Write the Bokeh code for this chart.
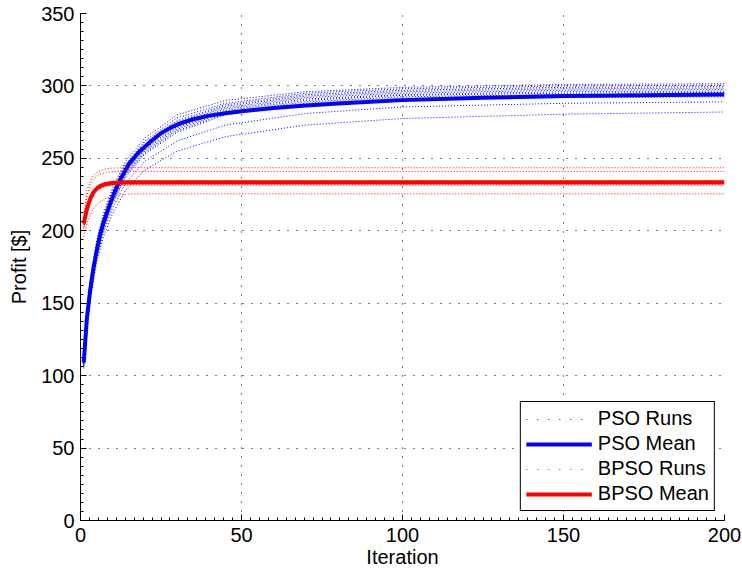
from bokeh.plotting import figure
from bokeh.models import Range1d, SingleIntervalTicker, Legend, LegendItem
from bokeh.embed import file_html
from bokeh.resources import INLINE

# ---------------- data ----------------
pso_mean_iters = [1, 2, 3, 4, 5, 6, 7, 8, 10, 12, 15, 18, 20, 22, 25, 28, 31, 35, 40, 45, 50, 60, 70, 80,
                  100, 125, 150, 175, 200]
pso_mean = [109, 140, 159, 174, 186, 196.5, 204.5, 211.5, 223.5, 234, 246, 254, 258, 262, 267.3, 271.2, 274.2,
            277, 279.5, 281.2, 282.5, 284.7, 286.5, 287.9, 290.2, 291.9, 293, 293.6, 294]

pso_run_iters = [1, 2, 3, 5, 7, 10, 14, 20, 30, 45, 70, 100, 150, 200]
pso_run_a = [112, 145, 166, 193, 211, 230, 248, 264, 280, 290, 296, 299, 301, 301.5]
pso_run_b = [110, 142, 163, 191, 209, 228, 246, 262, 278, 288, 295, 298, 300, 300.5]
pso_run_c = [108, 140, 161, 190, 208, 227, 245, 261, 276, 287, 294, 297, 299, 299.5]
pso_run_d = [111, 141, 160, 188, 206, 225, 243, 259, 275, 286, 293, 296, 298, 298.5]
pso_run_e = [107, 138, 159, 187, 205, 224, 242, 258, 274, 285, 292, 295, 297, 297.5]
pso_run_f = [109, 139, 158, 186, 204, 223, 241, 257, 272, 284, 291, 294, 296, 296.5]
pso_run_g = [106, 136, 157, 185, 203, 222, 240, 256, 271, 283, 290, 293.5, 295, 295.5]
pso_run_h = [110, 137, 156, 184, 202, 221, 239, 255, 270, 282, 289, 292.5, 294, 294.5]
pso_run_i = [108, 135, 155, 183, 201, 220, 238, 254, 269, 281, 288, 291.5, 293, 293.5]
pso_run_j = [105, 134, 154, 182, 200, 219, 237, 253, 268, 280, 287, 290.5, 292, 292.5]
pso_run_k = [109, 136, 155, 181, 198, 216, 233, 248, 262, 273, 281, 285.5, 288, 289]
pso_run_l = [107, 133, 152, 178, 195, 212, 228, 242, 255, 265, 273, 277.5, 280.5, 282]
pso_runs = [pso_run_a, pso_run_b, pso_run_c, pso_run_d, pso_run_e, pso_run_f,
            pso_run_g, pso_run_h, pso_run_i, pso_run_j, pso_run_k, pso_run_l]

bpso_mean_iters = [1, 2, 3, 4, 5, 6, 7, 8, 10, 12, 15, 20, 200]
bpso_mean = [205, 215, 222, 226.5, 229, 230.7, 231.7, 232.3, 233, 233.3, 233.5, 233.5, 233.5]

bpso_run_iters = [1, 2, 3, 4, 5, 6, 8, 10, 13, 16, 200]
bpso_run_1 = [209, 228, 234, 238, 240, 241.5, 242.8, 243.3, 243.5, 243.5, 243.5]
bpso_run_2 = [207, 224, 231, 235, 237.5, 239, 240.3, 240.8, 241, 241, 241]
bpso_run_3 = [203, 214, 222, 227, 230, 232, 233.5, 234.2, 234.5, 234.5, 234.5]
bpso_run_4 = [205, 216, 223, 228, 230.5, 232, 233.3, 233.8, 234, 234, 234]
bpso_run_5 = [204, 215, 222, 226.5, 229, 231, 232.8, 233.3, 233.5, 233.5, 233.5]
bpso_run_6 = [206, 216, 223, 227, 229.5, 231, 232.3, 232.8, 233, 233, 233]
bpso_run_7 = [202, 213, 220, 225, 228, 230, 231.8, 232.3, 232.5, 232.5, 232.5]
bpso_run_8 = [205, 215, 221.5, 226, 228.5, 230, 231.3, 231.8, 232, 232, 232]
bpso_run_9 = [201, 212, 219, 224, 227, 229, 230.8, 231.3, 231.5, 231.5, 231.5]
bpso_run_10 = [196, 205, 211, 215, 218, 220, 222.5, 224, 225, 225.5, 225.5]
bpso_runs = [bpso_run_1, bpso_run_2, bpso_run_3, bpso_run_4, bpso_run_5,
             bpso_run_6, bpso_run_7, bpso_run_8, bpso_run_9, bpso_run_10]

legend_labels = ["PSO Runs", "PSO Mean", "BPSO Runs", "BPSO Mean"]
x_label = "Iteration"
y_label = "Profit [$]"

# ---------------- figure ----------------
FONT = "Liberation Sans"
FS = "20px"

p = figure(width=742, height=574, output_backend="svg", toolbar_location=None,
           x_range=Range1d(0, 200), y_range=Range1d(0, 350),
           min_border_left=80, min_border_right=18, min_border_top=13, min_border_bottom=54)
p.outline_line_color = None
p.background_fill_color = "white"
p.border_fill_color = "white"

p.xaxis.ticker = SingleIntervalTicker(interval=50, num_minor_ticks=18)
p.yaxis.ticker = SingleIntervalTicker(interval=50, num_minor_ticks=8)
for ax in (p.xaxis, p.yaxis):
    ax.axis_line_color = "black"
    ax.axis_line_width = 1
    ax.major_tick_in = 6
    ax.major_tick_out = 0
    ax.minor_tick_in = 3
    ax.minor_tick_out = 0
    ax.major_tick_line_color = "black"
    ax.minor_tick_line_color = "black"
    ax.major_label_text_font = FONT
    ax.major_label_text_font_size = FS
    ax.major_label_text_color = "black"
    ax.axis_label_text_font = FONT
    ax.axis_label_text_font_size = FS
    ax.axis_label_text_font_style = "normal"
    ax.axis_label_text_color = "black"
p.xaxis.axis_label = x_label
p.yaxis.axis_label = y_label
p.xaxis.major_label_standoff = 7
p.xaxis.axis_label_standoff = 1
p.yaxis.major_label_standoff = 6
p.yaxis.axis_label_standoff = 8

for g in (p.xgrid, p.ygrid):
    g.grid_line_color = "black"
    g.grid_line_dash = "1 8"
    g.grid_line_width = 1
    g.grid_line_alpha = 1.0

# ---------------- lines ----------------
for run in pso_runs:
    p.line(pso_run_iters, run, line_color="#0000ff", line_width=1, line_dash="1 2")
pso_mean_r = p.line(pso_mean_iters, pso_mean, line_color="#0000ff", line_width=4, line_join="round")

for run in bpso_runs:
    p.line(bpso_run_iters, run, line_color="#ff0000", line_width=1, line_dash="1 2")
bpso_mean_r = p.line(bpso_mean_iters, bpso_mean, line_color="#ff0000", line_width=4, line_join="round")

# legend-only renderers: lie outside the visible ranges
pso_runs_leg = p.line(x=[-20, -10], y=[-20, -20], line_color="#0000ff", line_width=1, line_dash="1 10")
bpso_runs_leg = p.line(x=[-20, -10], y=[-20, -20], line_color="#ff0000", line_width=1, line_dash="1 10")

legend = Legend(items=[
    LegendItem(label=legend_labels[0], renderers=[pso_runs_leg]),
    LegendItem(label=legend_labels[1], renderers=[pso_mean_r]),
    LegendItem(label=legend_labels[2], renderers=[bpso_runs_leg]),
    LegendItem(label=legend_labels[3], renderers=[bpso_mean_r]),
], location="bottom_right")
legend.margin = 9
legend.padding = 5
legend.spacing = 2
legend.label_height = 22
legend.glyph_height = 22
legend.glyph_width = 66
legend.label_standoff = 6
legend.label_text_font = FONT
legend.label_text_font_size = FS
legend.label_text_color = "black"
legend.border_line_color = "black"
legend.border_line_width = 1
legend.border_line_alpha = 1.0
legend.background_fill_color = "white"
legend.background_fill_alpha = 1.0
p.add_layout(legend)

open("out.html", "w").write(file_html(p, INLINE))
